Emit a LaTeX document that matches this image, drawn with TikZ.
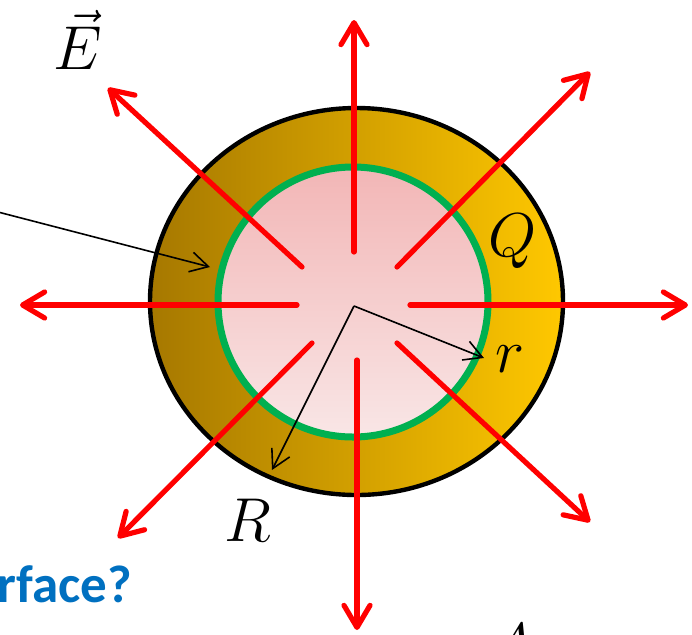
\documentclass[tikz,border=0pt]{standalone}
\usepackage{fix-cm}
\usepackage[no-math]{fontspec}
\newfontfamily\calibri{Carlito}
\usetikzlibrary{arrows.meta, positioning}
\definecolor{shelldark}{HTML}{A67800}
\definecolor{shelllight}{HTML}{FFC800}
\definecolor{pinktop}{HTML}{F2B6B6}
\definecolor{pinkbot}{HTML}{F9E6E6}
\definecolor{gauss}{HTML}{00B050}
\definecolor{field}{HTML}{FF0000}
\definecolor{note}{HTML}{0070C0}
\tikzset{
  efield/.style={field, line width=2.6pt, line cap=round,
    -{Straight Barb[round, length=11pt, width=13pt]}},
  pointer/.style={black, line width=0.8pt,
    -{Straight Barb[length=9pt, width=10pt]}},
  mathlabel/.style={inner sep=0pt, font=\fontsize{31}{36}\selectfont},
}

\begin{document}
\begin{tikzpicture}[x=0.5pt, y=-0.5pt]
  \path[use as bounding box, clip] (0,0) rectangle (692,634);
  % Charged shell
  \shade[left color=shelldark, right color=shelllight]
    (356.5,301.5) ellipse [x radius=206.5, y radius=193.5];
  \draw[line width=2.2pt] (356.5,301.5) ellipse [x radius=206.5, y radius=193.5];
  % Gaussian surface
  \shade[top color=pinktop, bottom color=pinkbot] (353,302) circle [radius=135];
  \draw[gauss, line width=3.5pt] (353,302) circle [radius=135];
  % Field lines
  \coordinate (o) at (354,306);
  \foreach \i/\sx/\sy/\tx/\ty in {1/354/252/354/20, 2/397/267/590/72,
      3/410/305/688/305, 4/397/343/590/522, 5/357/360/357/630,
      6/312/343/118/538, 7/297/305/20/305, 8/302/267/108/88}{
    \coordinate (s\i) at (\sx,\sy);
    \coordinate (t\i) at (\tx,\ty);
    \draw[efield] (s\i) -- (t\i);
  }
  % Radii
  \coordinate (rr) at (484,358);
  \coordinate (RR) at (272,470);
  \draw[pointer] (o) -- (rr);
  \draw[pointer] (o) -- (RR);
  % Pointer from the text
  \coordinate (p0) at (-2,212);
  \coordinate (p1) at (210,267);
  \draw[pointer] (p0) -- (p1);
  % Labels
  \node[mathlabel] (E) at (78,40) {$\vec{E}$};
  \node[mathlabel] (Q) at (513,241) {$Q$};
  \node[mathlabel] (r) at (510,359) {$r$};
  \node[mathlabel] (R) at (248,520) {$R$};
  \node[mathlabel, anchor=base west] (A) at (488,666) {$A$};
  \node[font=\calibri\bfseries\fontsize{26.5}{30}\selectfont, text=note,
    anchor=base west, inner sep=0pt] (q) at (-3,602) {rface?};
\end{tikzpicture}
\end{document}
